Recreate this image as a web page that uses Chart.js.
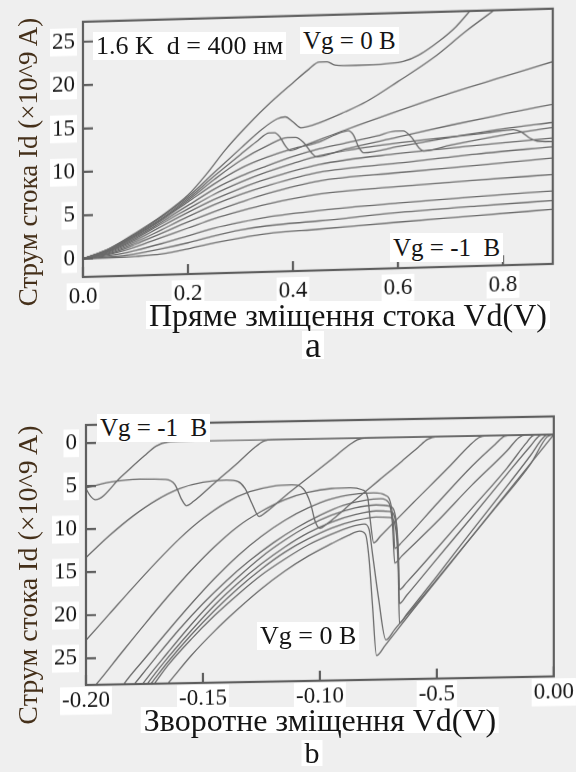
<!DOCTYPE html>
<html>
<head>
<meta charset="utf-8">
<script src="https://cdn.jsdelivr.net/npm/chart.js@4.4.1/dist/chart.umd.min.js"></script>
<style>
  html, body { margin: 0; padding: 0; }
  body {
    width: 576px; height: 772px; position: relative; overflow: hidden;
    background: #efefef;
    font-family: "Liberation Serif", "Times New Roman", serif;
    color: #151515;
  }
  canvas { position: absolute; left: 0; }
  /* the scanned frames lean slightly upward to the right */
  #fwdChart { top: 0; transform: skewY(-1.6deg); transform-origin: 83px 0; }
  #revChart { top: 400px; transform: skewY(-1.05deg); transform-origin: 86px 0; }
  .tag {
    position: absolute; background: #fff; white-space: pre;
    padding: 0 3px; box-sizing: border-box;
  }
  .ytitle {
    position: absolute; white-space: pre; color: #45301a;
    transform: translate(-50%, -50%) rotate(-90deg);
  }
  .center { transform: translateX(-50%); }
</style>
</head>
<body>

<canvas id="fwdChart" width="576" height="310"></canvas>
<canvas id="revChart" width="576" height="330"></canvas>

<!-- panel a texts -->
<div class="ytitle" style="left:28px; top:162px; font-size:27px; line-height:30px;">Струм стока Id (×10^9 A)</div>
<div class="tag" style="left:93px; top:32px; height:28px; font-size:26px; line-height:28px;">1.6 K  d = 400 нм</div>
<div class="tag" style="left:300px; top:27px; height:27px; font-size:25px; line-height:27px;">Vg = 0 B</div>
<div class="tag" style="left:390px; top:233px; height:29px; font-size:25px; line-height:29px;">Vg = -1  B</div>
<div class="tag center" style="left:348px; top:301px; height:28px; font-size:32px; line-height:28px;">Пряме зміщення стока Vd(V)</div>
<div class="tag center" style="left:313px; top:331px; height:28px; font-size:36px; line-height:28px;">a</div>

<!-- panel b texts -->
<div class="ytitle" style="left:28px; top:575px; font-size:28px; line-height:30px;">Струм стока Id (×10^9 A)</div>
<div class="tag" style="left:97px; top:414px; height:28px; font-size:25px; line-height:28px;">Vg = -1  B</div>
<div class="tag" style="left:257px; top:622px; height:28px; font-size:26px; line-height:28px;">Vg = 0 B</div>
<div class="tag center" style="left:320px; top:707px; height:26px; font-size:32px; line-height:26px;">Зворотне зміщення Vd(V)</div>
<div class="tag center" style="left:312px; top:740px; height:26px; font-size:30px; line-height:26px;">b</div>

<script>
// ---- forward bias (panel a): Id vs Vd, top curve Vg = 0 down to Vg = -1 ----
const fwdXTicks  = [0, 0.2, 0.4, 0.6, 0.8];
const fwdXLabels = ['0.0', '0.2', '0.4', '0.6', '0.8'];
const fwdYTicks  = [0, 5, 10, 15, 20, 25];

const fwd01 = [[0,0],[0.05,1.1],[0.1,2.8],[0.15,4.7],[0.2,7.0],[0.236,9.4],[0.27,12.0],[0.3,14.0],[0.35,17.0],[0.4,19.6],[0.43,21.1],[0.45,21.9],[0.465,21.9],[0.48,21.5],[0.52,21.4],[0.58,21.5],[0.61,21.7],[0.64,22.4],[0.68,24.0],[0.71,25.5],[0.74,27.5]];
const fwd02 = [[0,0],[0.05,1.05],[0.1,2.7],[0.15,4.6],[0.2,6.8],[0.25,9.5],[0.3,12.2],[0.34,14.3],[0.37,15.5],[0.385,15.7],[0.4,15.1],[0.415,14.4],[0.44,14.7],[0.5,16.1],[0.54,17.2],[0.6,19.4],[0.667,22.0],[0.73,25.0],[0.79,27.6]];
const fwd03 = [[0,0],[0.05,1.0],[0.1,2.6],[0.15,4.4],[0.2,6.6],[0.25,9.1],[0.3,11.5],[0.33,12.9],[0.355,13.9],[0.365,13.9],[0.375,13.4],[0.385,12.4],[0.395,11.8],[0.42,12.3],[0.5,14.0],[0.6,16.0],[0.7,17.9],[0.8,19.6],[0.895,21.2]];
const fwd04 = [[0,0],[0.05,0.95],[0.1,2.5],[0.15,4.3],[0.2,6.4],[0.25,8.7],[0.3,10.8],[0.35,12.4],[0.39,13.3],[0.405,13.3],[0.42,12.7],[0.435,11.5],[0.445,11.0],[0.5,11.8],[0.6,13.0],[0.7,14.2],[0.8,15.3],[0.895,16.3]];
const fwd05 = [[0,0],[0.05,0.9],[0.1,2.4],[0.15,4.2],[0.2,6.2],[0.25,8.2],[0.3,9.9],[0.35,11.1],[0.4,12.0],[0.45,12.7],[0.49,13.7],[0.505,13.9],[0.515,13.4],[0.525,12.0],[0.535,11.3],[0.6,11.9],[0.7,12.8],[0.8,13.6],[0.895,14.2]];
const fwd06 = [[0,0],[0.05,0.85],[0.1,2.25],[0.15,4.0],[0.2,5.8],[0.25,7.6],[0.3,9.0],[0.35,10.1],[0.4,11.1],[0.45,11.9],[0.5,12.5],[0.56,13.2],[0.595,13.7],[0.61,13.7],[0.625,13.0],[0.64,11.7],[0.65,11.3],[0.7,11.9],[0.8,12.9],[0.895,13.6]];
const fwd07 = [[0,0],[0.05,0.8],[0.1,2.1],[0.15,3.8],[0.2,5.4],[0.25,7.0],[0.3,8.3],[0.35,9.4],[0.4,10.3],[0.45,11.1],[0.55,12.0],[0.65,12.6],[0.75,13.1],[0.8,13.4],[0.82,13.5],[0.835,13.2],[0.85,12.5],[0.865,12.1],[0.895,12.0]];
const fwd08 = [[0,0],[0.05,0.7],[0.1,1.9],[0.15,3.5],[0.2,5.0],[0.25,6.4],[0.3,7.6],[0.35,8.6],[0.45,10.1],[0.6,11.1],[0.75,11.8],[0.895,12.4]];
const fwd09 = [[0,0],[0.05,0.6],[0.1,1.7],[0.15,3.1],[0.2,4.5],[0.25,5.8],[0.3,6.9],[0.35,7.8],[0.45,9.2],[0.6,10.0],[0.75,10.8],[0.895,11.4]];
const fwd10 = [[0,0],[0.05,0.5],[0.1,1.5],[0.15,2.7],[0.2,3.9],[0.25,5.0],[0.3,6.0],[0.35,6.9],[0.45,8.2],[0.6,8.9],[0.75,9.5],[0.895,10.1]];
const fwd11 = [[0,0],[0.05,0.4],[0.1,1.2],[0.15,2.2],[0.2,3.2],[0.25,4.2],[0.3,5.0],[0.35,5.7],[0.45,6.7],[0.6,7.3],[0.75,7.8],[0.895,8.2]];
const fwd12 = [[0,0],[0.05,0.25],[0.1,0.8],[0.15,1.5],[0.2,2.3],[0.25,3.1],[0.3,3.7],[0.35,4.2],[0.45,4.8],[0.6,5.4],[0.75,5.9],[0.895,6.3]];
const fwd13 = [[0,0],[0.05,0.1],[0.1,0.4],[0.15,0.9],[0.2,1.5],[0.25,2.2],[0.3,2.8],[0.35,3.2],[0.45,3.6],[0.6,4.3],[0.75,4.8],[0.895,5.2]];
const fwd14 = [[0,0],[0.05,0.02],[0.1,0.1],[0.15,0.3],[0.2,0.8],[0.25,1.4],[0.3,1.9],[0.35,2.3],[0.45,2.65],[0.6,3.2],[0.75,3.7],[0.895,4.2]];

// ---- reverse bias (panel b): |Id| grows downward, Vg = -1 upper left, Vg = 0 lower right ----
const revXTicks  = [-0.2, -0.15, -0.1, -0.05, 0];
const revXLabels = ['-0.20', '-0.15', '-0.10', '-0.5', '0.00'];
const revYTicks  = [0, 5, 10, 15, 20, 25];

const rev01 = [[-0.2,5.3],[-0.198,6.2],[-0.196,6.6],[-0.185,4.0],[-0.175,1.6],[-0.17,0.5],[-0.165,0.05],[-0.16,0],[0,0]];
const rev02 = [[-0.2,5.2],[-0.19,4.6],[-0.177,4.3],[-0.166,4.4],[-0.162,5.0],[-0.159,6.8],[-0.157,7.5],[-0.154,7.0],[-0.145,4.9],[-0.135,2.6],[-0.128,0.9],[-0.124,0.15],[-0.12,0],[0,0]];
const rev03 = [[-0.2,13.3],[-0.19,10.8],[-0.18,8.6],[-0.17,6.8],[-0.16,5.5],[-0.15,4.8],[-0.14,4.6],[-0.135,4.8],[-0.132,5.6],[-0.129,7.4],[-0.126,8.9],[-0.123,8.4],[-0.115,6.6],[-0.105,4.5],[-0.095,2.4],[-0.088,0.9],[-0.084,0.2],[-0.08,0],[0,0]];
const rev04 = [[-0.2,22.9],[-0.19,19.9],[-0.18,16.9],[-0.17,14.0],[-0.16,11.3],[-0.15,9.0],[-0.14,7.2],[-0.13,6.0],[-0.12,5.4],[-0.112,5.3],[-0.107,5.8],[-0.104,7.5],[-0.102,9.6],[-0.1,10.4],[-0.097,9.9],[-0.085,7.2],[-0.075,5.0],[-0.065,2.8],[-0.058,1.2],[-0.054,0.3],[-0.05,0],[0,0]];
const rev05 = [[-0.199,29],[-0.1955,28],[-0.185,24.5],[-0.175,21.2],[-0.165,18],[-0.155,15],[-0.145,12.3],[-0.135,10],[-0.125,8.3],[-0.115,7],[-0.105,6.2],[-0.095,5.8],[-0.087,5.75],[-0.082,6.0],[-0.0795,7.0],[-0.0785,9.5],[-0.077,12.2],[-0.074,11.4],[-0.06,7.6],[-0.045,3.6],[-0.036,1.1],[-0.032,0.2],[-0.029,0],[0,0]];
const rev06 = [[-0.186,29],[-0.1836,28],[-0.175,25.2],[-0.165,22],[-0.155,18.9],[-0.145,16],[-0.135,13.4],[-0.125,11.2],[-0.115,9.4],[-0.105,8],[-0.095,7.0],[-0.085,6.5],[-0.077,6.4],[-0.072,6.7],[-0.0695,8],[-0.0685,10.5],[-0.068,12.9],[-0.065,12.2],[-0.05,7.8],[-0.035,3.5],[-0.025,1.0],[-0.021,0.1],[-0.018,0],[0,0]];
const rev07 = [[-0.182,29],[-0.179,28],[-0.17,25],[-0.16,21.8],[-0.15,18.9],[-0.14,16.3],[-0.13,14],[-0.12,12],[-0.11,10.3],[-0.1,8.9],[-0.09,7.8],[-0.08,7.2],[-0.074,7.1],[-0.0705,7.6],[-0.069,10],[-0.068,14.6],[-0.065,13.8],[-0.05,9.9],[-0.035,5.7],[-0.02,1.8],[-0.015,0.3],[-0.012,0],[0,0]];
const rev08 = [[-0.178,29],[-0.1755,28],[-0.165,24.5],[-0.155,21.3],[-0.145,18.4],[-0.135,15.9],[-0.125,13.6],[-0.115,11.7],[-0.105,10.1],[-0.095,8.9],[-0.085,8.1],[-0.076,7.8],[-0.07,8.0],[-0.0675,9.5],[-0.0665,13],[-0.066,17.7],[-0.063,16.9],[-0.05,13],[-0.035,8.4],[-0.02,3.8],[-0.012,1.0],[-0.009,0.1],[-0.007,0],[0,0]];
const rev09 = [[-0.176,29],[-0.1735,28],[-0.165,25.1],[-0.155,22],[-0.145,19.1],[-0.135,16.6],[-0.125,14.4],[-0.115,12.5],[-0.105,10.9],[-0.095,9.7],[-0.085,8.9],[-0.076,8.5],[-0.07,8.6],[-0.0675,10],[-0.0665,14],[-0.066,19.3],[-0.063,18.4],[-0.05,14.2],[-0.035,9.4],[-0.02,4.5],[-0.01,1.3],[-0.006,0.1],[-0.004,0],[0,0]];
const rev10 = [[-0.175,29],[-0.172,28],[-0.165,25.6],[-0.155,22.5],[-0.145,19.7],[-0.135,17.2],[-0.125,15],[-0.115,13.1],[-0.105,11.6],[-0.095,10.4],[-0.085,9.6],[-0.076,9.2],[-0.07,9.3],[-0.0675,10.8],[-0.0665,15.5],[-0.066,21.6],[-0.063,20.6],[-0.05,16.2],[-0.035,11],[-0.02,5.9],[-0.01,2.4],[-0.004,0.2],[-0.002,0],[0,0]];
const rev11 = [[-0.1735,29],[-0.1705,28],[-0.165,26],[-0.155,23],[-0.145,20.3],[-0.135,17.9],[-0.125,15.7],[-0.115,13.9],[-0.105,12.3],[-0.095,11.1],[-0.087,10.3],[-0.081,10.0],[-0.079,10.6],[-0.0775,13.5],[-0.075,18.5],[-0.0718,23.5],[-0.068,22.3],[-0.055,18.2],[-0.04,13.3],[-0.025,8.4],[-0.01,3.4],[-0.003,0.3],[0,0]];
const rev12 = [[-0.168,29],[-0.1647,28],[-0.155,24.9],[-0.145,22.1],[-0.135,19.6],[-0.125,17.3],[-0.115,15.3],[-0.105,13.6],[-0.095,12.2],[-0.088,11.3],[-0.083,10.8],[-0.0805,11.2],[-0.079,14],[-0.0775,19.5],[-0.0758,25.3],[-0.072,24.1],[-0.06,20],[-0.045,15],[-0.03,10],[-0.015,5],[0,0]];

const CURVE_COLOR = '#6a6a6a';
const FRAME_COLOR = '#5e5e5e';
const TICK_TEXT   = '#141414';

Chart.defaults.font.family = "'Liberation Serif', 'Times New Roman', serif";

// box around the plot plus short inward tick marks
const framePlugin = {
  id: 'frame',
  afterDatasetsDraw(chart, _args, opts) {
    const { ctx, chartArea: area, scales } = chart;
    ctx.save();
    ctx.strokeStyle = opts.color;
    ctx.lineWidth = opts.width;
    ctx.strokeRect(area.left, area.top, area.right - area.left, area.bottom - area.top);
    ctx.beginPath();
    scales.y.ticks.forEach(t => {
      const py = scales.y.getPixelForValue(t.value);
      ctx.moveTo(area.left, py);
      ctx.lineTo(area.left + opts.tick, py);
    });
    scales.x.ticks.forEach(t => {
      const px = scales.x.getPixelForValue(t.value);
      ctx.moveTo(px, area.bottom);
      ctx.lineTo(px, area.bottom - opts.tick);
    });
    ctx.stroke();
    ctx.restore();
  }
};

function tickOpts(labels, padding) {
  return {
    callback: (v, i) => labels ? labels[i] : String(v),
    color: TICK_TEXT,
    font: { size: 23 },
    padding,
    autoSkip: false,
    maxRotation: 0,
    showLabelBackdrop: true,
    backdropColor: '#ffffff',
    backdropPadding: { top: 0, bottom: 0, left: 2, right: 2 },
  };
}

function ivChart(canvasId, curves, cfg) {
  return new Chart(document.getElementById(canvasId), {
    type: 'scatter',
    data: {
      datasets: curves.map(c => ({
        data: c,
        showLine: true,
        borderColor: CURVE_COLOR,
        borderWidth: 1.3,
        pointRadius: 0,
        cubicInterpolationMode: 'monotone',
      })),
    },
    options: {
      responsive: false,
      animation: false,
      layout: { padding: cfg.padding },
      plugins: {
        legend: { display: false },
        tooltip: { enabled: false },
        frame: { color: FRAME_COLOR, width: 2.2, tick: 10 },
      },
      scales: {
        x: {
          type: 'linear',
          min: cfg.xMin, max: cfg.xMax,
          grid: { display: false, drawTicks: false },
          border: { display: false },
          afterBuildTicks: s => { s.ticks = cfg.xTicks.map(v => ({ value: v })); },
          afterFit: s => { s.height = cfg.xAxisHeight; },
          ticks: tickOpts(cfg.xLabels, cfg.xPad),
        },
        y: {
          type: 'linear',
          min: cfg.yMin, max: cfg.yMax,
          reverse: !!cfg.reverse,
          grid: { display: false, drawTicks: false },
          border: { display: false },
          afterBuildTicks: s => { s.ticks = cfg.yTicks.map(v => ({ value: v })); },
          afterFit: s => { s.width = cfg.yAxisWidth; },
          ticks: tickOpts(null, cfg.yPad),
        },
      },
    },
    plugins: [framePlugin],
  });
}

ivChart('fwdChart',
  [fwd01, fwd02, fwd03, fwd04, fwd05, fwd06, fwd07, fwd08, fwd09, fwd10, fwd11, fwd12, fwd13, fwd14],
  {
    xMin: 0, xMax: 0.895, yMin: -2.1, yMax: 27.3,
    xTicks: fwdXTicks, xLabels: fwdXLabels, yTicks: fwdYTicks,
    padding: { top: 21, right: 23, bottom: 0, left: 0 },
    yAxisWidth: 83, xAxisHeight: 33, xPad: 6, yPad: 8,
  });

ivChart('revChart',
  [rev01, rev02, rev03, rev04, rev05, rev06, rev07, rev08, rev09, rev10, rev11, rev12],
  {
    xMin: -0.2, xMax: 0, yMin: -2.1, yMax: 28.1, reverse: true,
    xTicks: revXTicks, xLabels: revXLabels, yTicks: revYTicks,
    padding: { top: 25, right: 19, bottom: 0, left: 0 },
    yAxisWidth: 86, xAxisHeight: 45, xPad: 2, yPad: 9,
  });
</script>
</body>
</html>
